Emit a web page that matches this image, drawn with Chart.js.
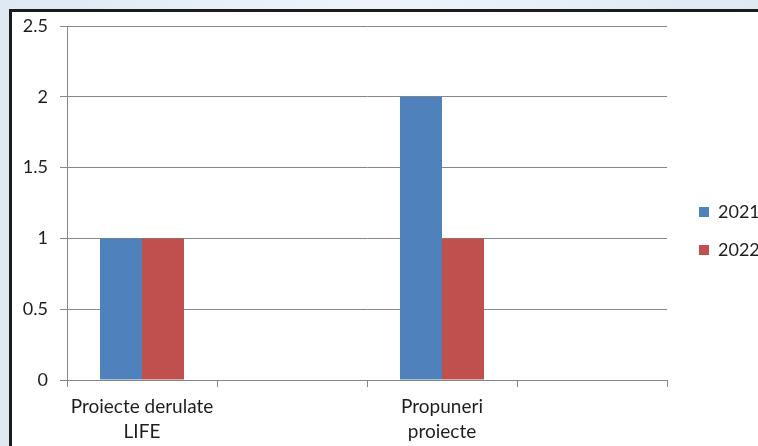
<!DOCTYPE html>
<html>
<head>
<meta charset="utf-8">
<script src="https://cdn.jsdelivr.net/npm/chart.js@4.4.1/dist/chart.umd.min.js"></script>
<style>
  html, body { margin: 0; padding: 0; width: 758px; height: 446px; overflow: hidden; }
  body {
    background: #e3ecf5;
    background-image: linear-gradient(90deg, #dfe9f4, #eef4fa 50%, #dfe9f4);
    position: relative;
  }
  #frame {
    position: absolute; left: 9px; top: 9px; width: 800px; height: 500px;
    border: 3px solid #1c1c1c; background: #ffffff; box-sizing: border-box;
  }
  #c { position: absolute; left: 0; top: 0; }
</style>
</head>
<body>
<div id="frame"></div>
<canvas id="c" width="758" height="446"></canvas>
<script>
// ---- data ----
const categories = [["Proiecte derulate", "LIFE"], "", ["Propuneri", "proiecte"], ""];
const seriesNames = ["2021", "2022"];
const values2021 = [1, null, 2, null];
const values2022 = [1, null, 1, null];
const yTickValues = [0, 0.5, 1, 1.5, 2, 2.5];
const yTickLabels = ["0", "0.5", "1", "1.5", "2", "2.5"];

const FONT = "Lato, 'Open Sans', sans-serif";
const TEXT = "#1e1e1e";
const GRID = "#878787";

const legendTweak = {
  id: 'legendTweak',
  beforeLayout(chart) {
    const l = chart.legend;
    if (l && !l._patched) {
      const f = l.fit;
      l.fit = function () { f.call(this); this.width = 91; };
      l._patched = true;
    }
  },
  afterLayout(chart) {
    const l = chart.legend;
    if (!l) return;
    const dx = 12, dy = -5;
    l.left += dx; l.right += dx; l.top += dy; l.bottom += dy;
  }
};

new Chart(document.getElementById('c'), {
  type: 'bar',
  data: {
    labels: categories,
    datasets: [
      { label: seriesNames[0], data: values2021, backgroundColor: '#4F81BD', borderWidth: 0 },
      { label: seriesNames[1], data: values2022, backgroundColor: '#C0504D', borderWidth: 0 }
    ]
  },
  options: {
    responsive: false,
    animation: false,
    devicePixelRatio: 1,
    categoryPercentage: 0.56,
    barPercentage: 1.0,
    layout: { padding: { top: 26, left: 0, right: 0, bottom: 0 } },
    plugins: {
      tooltip: { enabled: false },
      legend: {
        position: 'right',
        align: 'center',
        labels: {
          boxWidth: 10, boxHeight: 10, padding: 20,
          color: TEXT,
          font: { family: FONT, size: 18 }
        }
      }
    },
    scales: {
      x: {
        offset: true,
        grid: { offset: true, drawOnChartArea: false, drawTicks: true, tickLength: 7, color: GRID, lineWidth: 1 },
        border: { display: true, color: GRID, width: 1 },
        ticks: { color: TEXT, font: { family: FONT, size: 19, lineHeight: 1.32 }, padding: 7, maxRotation: 0, autoSkip: false },
        afterFit(s) { s.height = 66; }
      },
      y: {
        min: 0, max: 2.5,
        afterBuildTicks(s) { s.ticks = yTickValues.map(v => ({ value: v })); },
        grid: { color: GRID, lineWidth: 1, drawTicks: true, tickLength: 7 },
        border: { display: true, color: GRID, width: 1 },
        ticks: {
          color: TEXT, font: { family: FONT, size: 18 }, padding: 12,
          callback: (v) => { const i = yTickValues.indexOf(v); return i >= 0 ? yTickLabels[i] : ''; }
        },
        afterFit(s) { s.width = 67; }
      }
    }
  },
  plugins: [legendTweak]
});
</script>
</body>
</html>
